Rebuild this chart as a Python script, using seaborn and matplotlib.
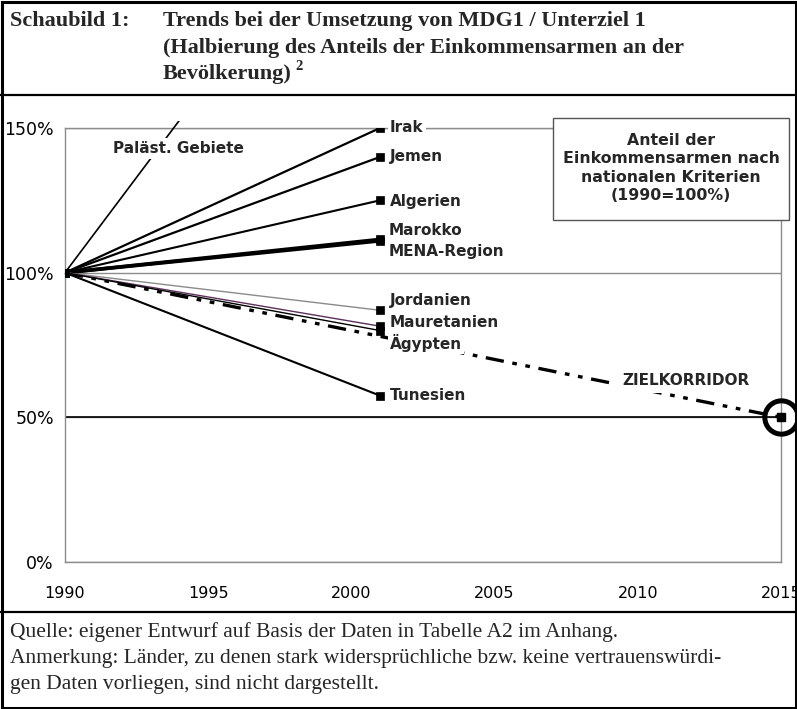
import matplotlib

matplotlib.use("Agg")
import matplotlib.pyplot as plt
from matplotlib.lines import Line2D
from matplotlib.patches import Rectangle
import pandas as pd
import seaborn as sns

# values (1990 = 100 %)
countries = ["Paläst. Gebiete", "Irak", "Jemen", "Algerien", "Marokko",
             "MENA-Region", "Jordanien", "Mauretanien", "Ägypten", "Tunesien"]
start_year = 1990
end_year = 2001
start_value = 100
values_2001 = [245, 150, 140, 125, 111.5, 111, 87, 81.5, 80, 57.5]

target_years = [1990, 2015]
target_values = [100, 50]
target_label = "ZIELKORRIDOR"

x_ticks = [1990, 1995, 2000, 2005, 2010, 2015]
y_ticks = [0, 50, 100, 150]

title_lines = ["Trends bei der Umsetzung von MDG1 / Unterziel 1",
               "(Halbierung des Anteils der Einkommensarmen an der",
               "Bevölkerung)"]
box_text = "Anteil der\nEinkommensarmen nach\nnationalen Kriterien\n(1990=100%)"
note_lines = ["Quelle: eigener Entwurf auf Basis der Daten in Tabelle A2 im Anhang.",
              "Anmerkung: Länder, zu denen stark widersprüchliche bzw. keine vertrauenswürdi-",
              "gen Daten vorliegen, sind nicht dargestellt."]

df = pd.DataFrame({
    "land": countries * 2,
    "jahr": [start_year] * len(countries) + [end_year] * len(countries),
    "wert": [start_value] * len(countries) + values_2001,
})

# line style per country
line_style = {
    "Paläst. Gebiete": ("black", 1.2),
    "Irak": ("black", 1.6),
    "Jemen": ("black", 1.6),
    "Algerien": ("black", 1.5),
    "Marokko": ("black", 2.6),
    "MENA-Region": ("black", 2.6),
    "Jordanien": ("#8a8a8a", 1.0),
    "Mauretanien": ("#5c2f5c", 1.0),
    "Ägypten": ("black", 1.0),
    "Tunesien": ("black", 1.5),
}
# label offsets from the 2001 point, in pixels
label_offset = {
    "Irak": (10, 0),
    "Jemen": (10, 0),
    "Algerien": (10, -1),
    "Marokko": (9, 9),
    "MENA-Region": (9, -11),
    "Jordanien": (10, 10),
    "Mauretanien": (10, 4),
    "Ägypten": (10, -12),
    "Tunesien": (10, 0),
}

sns.set_style("white")
plt.rcParams["font.family"] = ["DejaVu Sans"]

fig = plt.figure(figsize=(7.97, 7.09), dpi=100)
ax = fig.add_axes([65 / 797, 1 - 562 / 709, (781 - 65) / 797, (562 - 128) / 709])

ax.set_xlim(1990, 2015)
ax.set_ylim(0, 150)
ax.set_xticks(x_ticks)
ax.set_yticks(y_ticks)
ax.set_yticklabels([f"{v}%" for v in y_ticks])
ax.grid(axis="y", color="#8c8c8c", lw=1.0)
ax.axhline(target_values[-1], color="black", lw=1.2, zorder=1)
for s in ax.spines.values():
    s.set_color("#8c8c8c")
    s.set_linewidth(1.0)
ax.tick_params(axis="both", direction="out", length=5, color="#8c8c8c",
               colors="black")
ax.tick_params(axis="x", pad=12, labelsize=11.5)
ax.tick_params(axis="y", pad=3, labelsize=12.5)
ax.tick_params(axis="both", color="#8c8c8c")

# target corridor
sns.lineplot(x=target_years, y=target_values, ax=ax, color="black", lw=2.4,
             zorder=3)
zl = ax.lines[-1]
zl.set_dashes([5.5, 2.6, 1.4, 2.6, 1.4, 2.6])
zl.set_clip_on(False)
ax.plot(target_years[-1], target_values[-1], marker="s", ms=6, color="black",
        clip_on=False, zorder=5)
ax.plot(target_years[-1], target_values[-1], marker="o", ms=24, mfc="none",
        mec="black", mew=3.6, clip_on=False, zorder=5)

for land in countries:
    color, lw = line_style[land]
    sub = df[df["land"] == land]
    sns.lineplot(data=sub, x="jahr", y="wert", ax=ax, color=color, lw=lw,
                 marker="s", markersize=6, markerfacecolor="black",
                 markeredgecolor="black", markeredgewidth=0.5, zorder=4)
    if land == "Paläst. Gebiete":
        clip = Rectangle((1990, -2), 25, 154.5, transform=ax.transData)
        ax.lines[-1].set_clip_path(clip)

ax.set_xlabel("")
ax.set_ylabel("")

lab_kw = dict(textcoords="offset pixels", ha="left", va="center",
              fontweight="bold", fontsize=11,
              bbox=dict(fc="white", ec="none", pad=1.5), zorder=6)
for land, val in zip(countries, values_2001):
    if land in label_offset:
        ax.annotate(land, xy=(end_year, val), xytext=label_offset[land], **lab_kw)

ax.annotate(countries[0], xy=(start_year, start_value), xytext=(113, 124),
            textcoords="offset pixels", ha="center", va="center",
            fontweight="bold", fontsize=11,
            bbox=dict(fc="white", ec="none", pad=2), zorder=6)
ax.annotate(target_label, xy=(target_years[-1], target_values[-1]),
            xytext=(-95, 37), textcoords="offset pixels", ha="center",
            va="center", fontweight="bold", fontsize=11,
            bbox=dict(fc="white", ec="none", pad=4), zorder=6)

# explanation box
fig.add_artist(Rectangle((553 / 797, 1 - 220 / 709), 236 / 797, 102 / 709,
                         transform=fig.transFigure, fc="white", ec="#555555",
                         lw=1.0, zorder=10))
fig.text(671 / 797, 1 - 168 / 709, box_text, ha="center", va="center",
         fontweight="bold", fontsize=11.3, linespacing=1.3, zorder=11)

# title block
serif = ["Liberation Serif", "DejaVu Serif"]
fig.text(10 / 797, 1 - 21 / 709, "Schaubild 1:", family=serif,
         fontweight="bold", fontsize=16, va="center")
title_objs = []
for i, line in enumerate(title_lines):
    t = fig.text(163 / 797, 1 - (21 + 26.5 * i) / 709, line, family=serif,
                 fontweight="bold", fontsize=16, va="center")
    title_objs.append(t)
fig.canvas.draw()
bb = title_objs[-1].get_window_extent()
fig.text((bb.x1 + 4) / 797, (bb.y1 - 3) / 709, "2", family=serif,
         fontweight="bold", fontsize=10.5, va="center")

# notes
for i, line in enumerate(note_lines):
    y = [632, 659, 684][i]
    fig.text(10 / 797, 1 - y / 709, line, family=serif, fontsize=15.5,
             va="center")

# frame lines
for y in (95, 612):
    fig.add_artist(Line2D([0, 1], [1 - y / 709] * 2, transform=fig.transFigure,
                          color="black", lw=1.6))
fig.add_artist(Rectangle((1.5 / 797, 1.5 / 709), 794 / 797, 706 / 709,
                         transform=fig.transFigure, fill=False, ec="black",
                         lw=2.2))

fig.savefig("out.png", dpi=100)
plt.close(fig)
